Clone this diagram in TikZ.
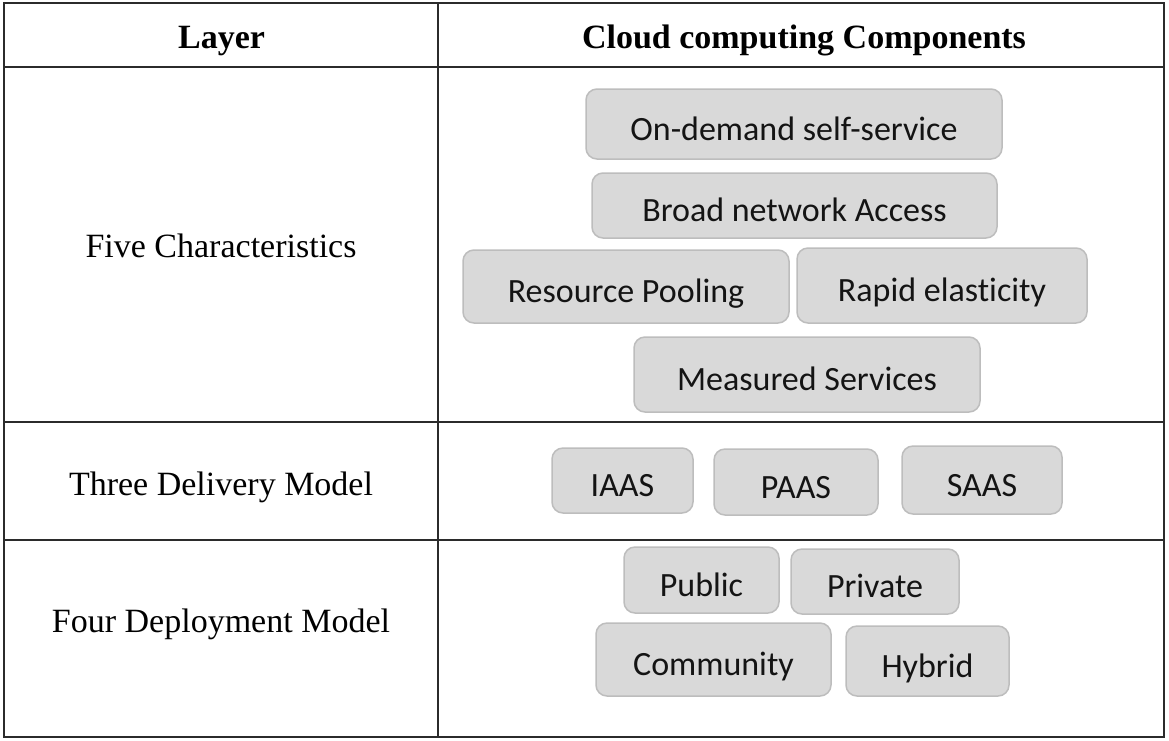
\documentclass[tikz,border=0pt]{standalone}
\usepackage{fontspec}
\setmainfont{Liberation Serif}
\newfontfamily\boxfont[Ligatures={NoCommon,NoContextual}]{Carlito}
\definecolor{rulecol}{HTML}{2B2B2B}
\definecolor{boxfill}{HTML}{D9D9D9}
\definecolor{boxline}{HTML}{BDBDBD}
\definecolor{boxtext}{HTML}{141414}
\tikzset{
  layerlabel/.style={anchor=base, inner sep=0pt, font=\fontsize{34}{40}\selectfont},
  headlabel/.style={layerlabel, font=\fontsize{34}{40}\selectfont\bfseries},
  cbox/.style={draw=boxline, fill=boxfill, line width=1.5pt, rounded corners=11pt,
    inner sep=0pt, outer sep=0pt, text=boxtext, text height=32pt, text depth=0pt,
    font=\fontsize{34}{40}\selectfont\boxfont},
  tablerule/.style={draw=rulecol, line width=1.8pt}
}
\begin{document}
\begin{tikzpicture}[x=1pt, y=-1pt]
\useasboundingbox (0,0) rectangle (1169,740);
\fill[white] (0,0) rectangle (1169,740);

% table frame and rules
\path[tablerule] (4,3) rectangle (1164,737);
\path[tablerule] (438,3) -- (438,737);
\path[tablerule] (4,67) -- (1164,67);
\path[tablerule] (4,422) -- (1164,422);
\path[tablerule] (4,540) -- (1164,540);

% header
\node[headlabel] (hlayer) at (221.5,48) {Layer};
\node[headlabel] (hcomp) at (804,48) {Cloud computing Components};

% layer names
\node[layerlabel] (five) at (221,257) {Five Characteristics};
\node[layerlabel] (three) at (221,495) {Three Delivery Model};
\node[layerlabel] (four) at (221,632) {Four Deployment Model};

% five characteristics
\node[cbox, minimum width=416pt, minimum height=70pt] (ondemand) at (794,124) {On-demand self-service};
\node[cbox, minimum width=405pt, minimum height=65pt] (broad) at (794.5,205.5) {Broad network Access};
\node[cbox, minimum width=326pt, minimum height=73pt] (pooling) at (626,286.5) {Resource Pooling};
\node[cbox, minimum width=290pt, minimum height=75pt] (elastic) at (942,285.5) {Rapid elasticity};
\node[cbox, minimum width=346pt, minimum height=75pt] (measured) at (807,374.5) {Measured Services};

% delivery models
\node[cbox, minimum width=141pt, minimum height=65pt] (iaas) at (622.5,480.5) {IAAS};
\node[cbox, minimum width=164pt, minimum height=66pt] (paas) at (796,482) {PAAS};
\node[cbox, minimum width=160pt, minimum height=68pt] (saas) at (982,480) {SAAS};

% deployment models
\node[cbox, minimum width=155pt, minimum height=66pt] (public) at (701.5,580) {Public};
\node[cbox, minimum width=168pt, minimum height=65pt] (private) at (875,581.5) {Private};
\node[cbox, minimum width=235pt, minimum height=73pt] (community) at (713.5,659.5) {Community};
\node[cbox, minimum width=163pt, minimum height=70pt] (hybrid) at (927.5,661) {Hybrid};
\end{tikzpicture}
\end{document}
